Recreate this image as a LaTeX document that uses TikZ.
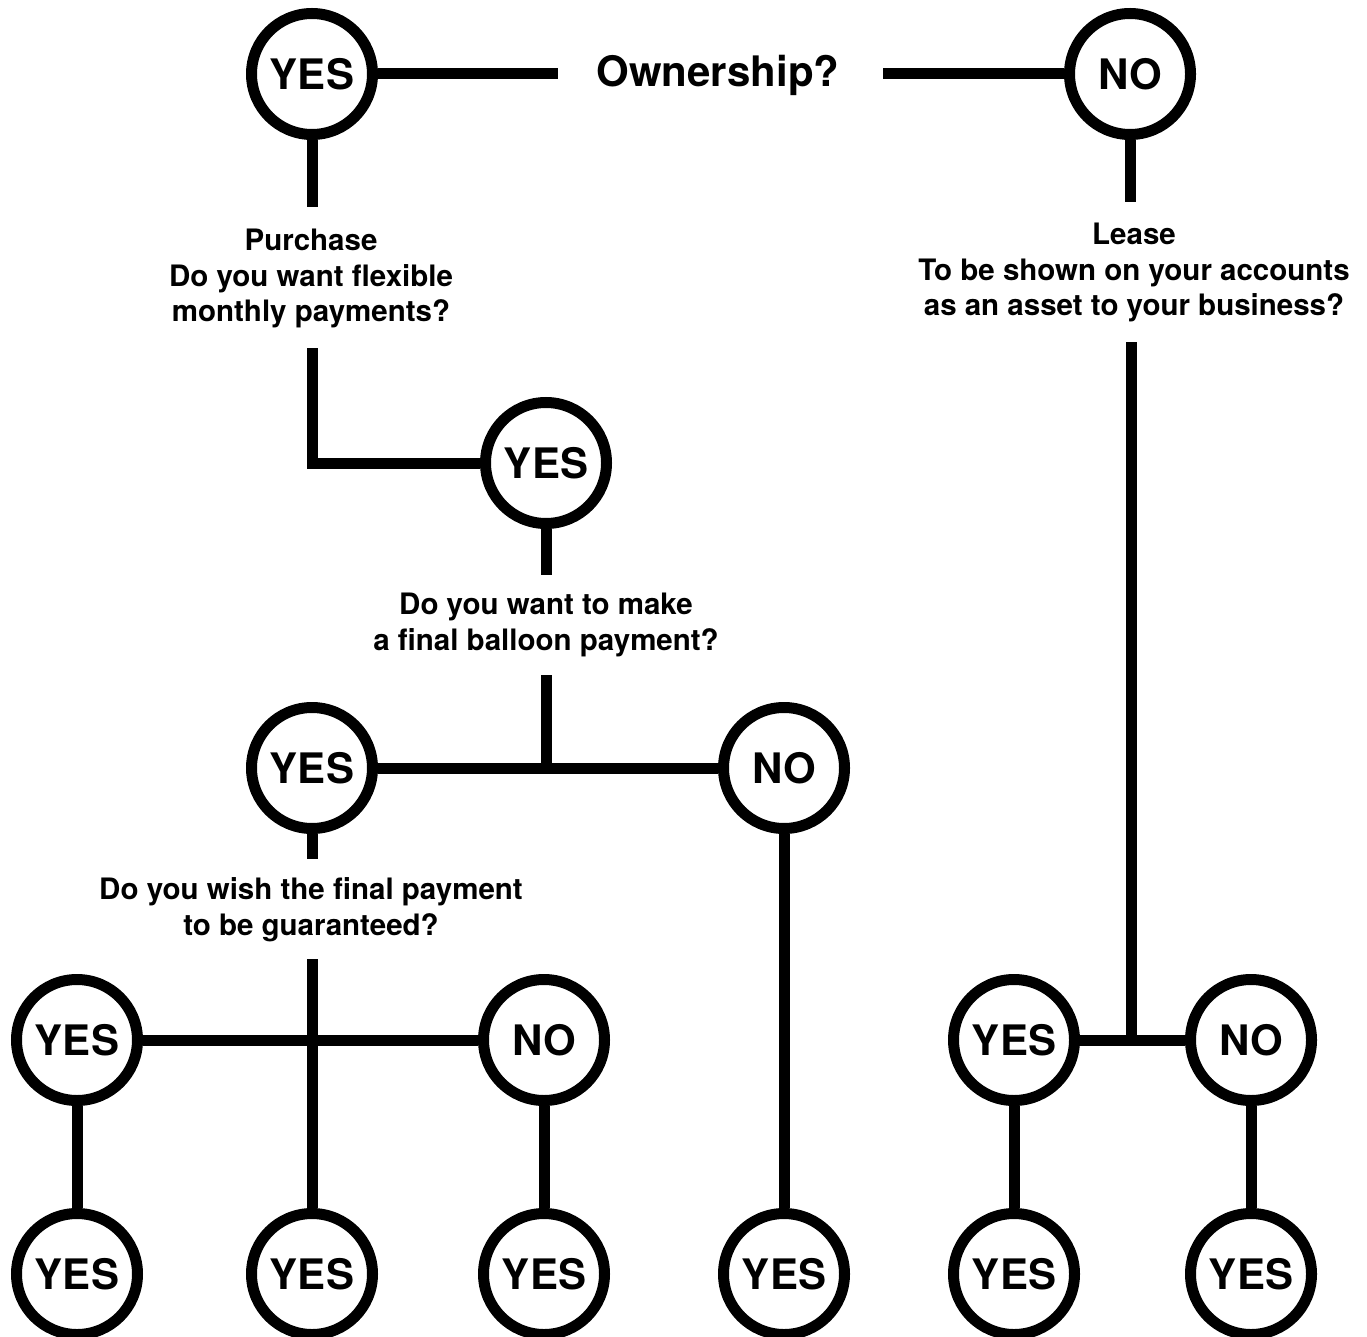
\documentclass[tikz,border=0pt]{standalone}
\usepackage{fontspec}
\setmainfont{TeX Gyre Heros}
\begin{document}
\begin{tikzpicture}[x=1pt,y=-1pt,
  ans/.style={circle,draw,line width=11pt,minimum size=121pt,inner sep=0pt,
    font=\fontsize{42}{42}\selectfont\bfseries},
  big/.style={font=\fontsize{42}{42}\selectfont\bfseries,anchor=base,inner sep=0pt},
  q/.style={align=center,font=\fontsize{29.5}{35.5}\selectfont\bfseries,anchor=base,inner sep=0pt},
  conn/.style={line width=11pt}]
\useasboundingbox (0,0) rectangle (1367,1337);

% top row
\node[ans] (yA) at (312,74) {YES};
\node[ans] (nA) at (1130,74) {NO};
\node[big] (own) at (718,87) {Ownership?};
\coordinate (ownL) at (558,74);
\coordinate (ownR) at (883,74);
\draw[conn] (yA) -- (ownL);
\draw[conn] (ownR) -- (nA);

% purchase branch (base anchor = last line)
\node[q] (qP) at (311,322) {Purchase\\Do you want flexible\\monthly payments?};
\coordinate (pTop) at (312,207);
\coordinate (pBot) at (312,348);
\node[ans] (yB) at (546,463) {YES};
\draw[conn] (yA) -- (pTop);
\draw[conn] (pBot) |- (yB);

% balloon question
\coordinate (bTop) at (546,575);
\node[q] (qB) at (546,650) {Do you want to make\\a final balloon payment?};
\coordinate (bBot) at (546,675);
\coordinate (bJ) at (546,768);
\draw[conn] (yB) -- (bTop);
\draw[conn] (bBot) -- (bJ);
\node[ans] (yC) at (312,768) {YES};
\node[ans] (nC) at (784,768) {NO};
\draw[conn] (yC) -- (nC);

% guaranteed question
\coordinate (gTop) at (312,859);
\node[q] (qG) at (311,935) {Do you wish the final payment\\to be guaranteed?};
\coordinate (gBot) at (312,959);
\draw[conn] (yC) -- (gTop);
\node[ans] (yD) at (77,1040) {YES};
\node[ans] (nD) at (544,1040) {NO};
\draw[conn] (yD) -- (nD);

% bottom row (left)
\node[ans] (b1) at (77,1274) {YES};
\node[ans] (b2) at (312,1274) {YES};
\node[ans] (b3) at (544,1274) {YES};
\node[ans] (b4) at (784,1274) {YES};
\draw[conn] (gBot) -- (b2);
\draw[conn] (yD) -- (b1);
\draw[conn] (nD) -- (b3);
\draw[conn] (nC) -- (b4);

% lease branch
\coordinate (lTop) at (1130,202);
\node[q] (qL) at (1134,316) {Lease\\To be shown on your accounts\\as an asset to your business?};
\coordinate (lBot) at (1131,342);
\coordinate (lJ) at (1131,1040);
\draw[conn] (nA) -- (lTop);
\draw[conn] (lBot) -- (lJ);
\node[ans] (yE) at (1014,1040) {YES};
\node[ans] (nE) at (1251,1040) {NO};
\draw[conn] (yE) -- (nE);
\node[ans] (b5) at (1014,1274) {YES};
\node[ans] (b6) at (1251,1274) {YES};
\draw[conn] (yE) -- (b5);
\draw[conn] (nE) -- (b6);
\end{tikzpicture}
\end{document}
